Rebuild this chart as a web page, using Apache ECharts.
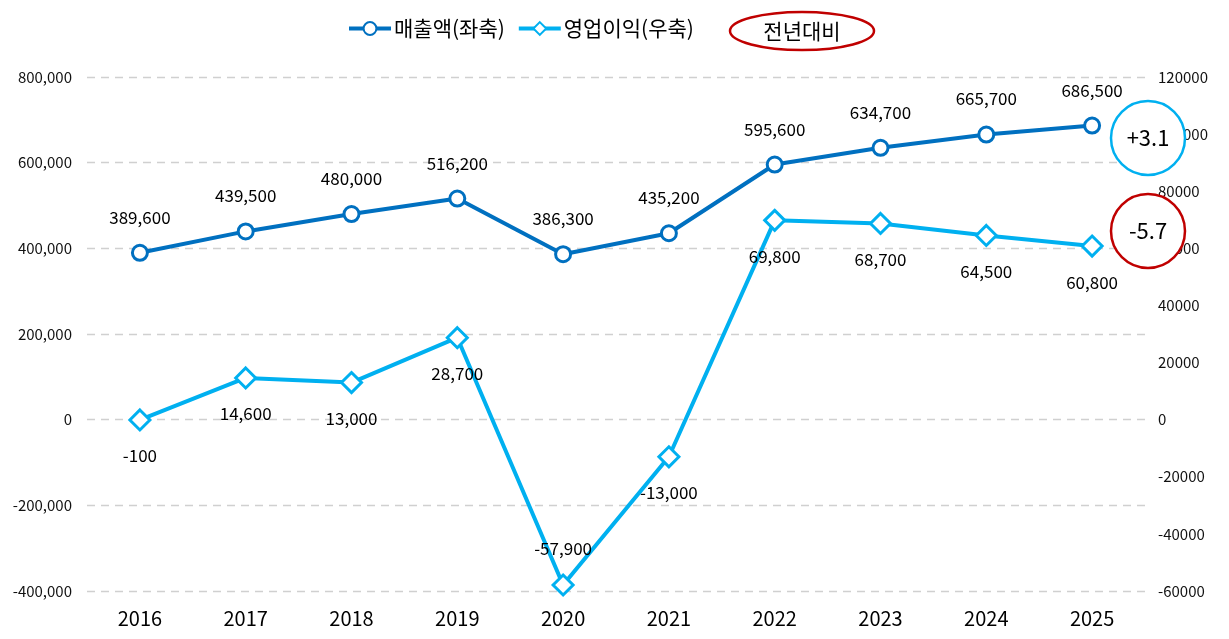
<!DOCTYPE html>
<html><head><meta charset="utf-8">
<script src="https://cdn.jsdelivr.net/npm/echarts@6/dist/echarts.min.js"></script>
<style>html,body{margin:0;padding:0;background:#fff}#c{width:1229px;height:639px}</style>
</head><body><div id="c"></div>
<script>
const years = ['2016','2017','2018','2019','2020','2021','2022','2023','2024','2025'];
const revenue = [389600,439500,480000,516200,386300,435200,595600,634700,665700,686500];
const opProfit = [-100,14600,13000,28700,-57900,-13000,69800,68700,64500,60800];
const revName = '매출액(좌축)';
const opName = '영업이익(우축)';
const revYoY = '+3.1';
const opYoY = '-5.7';
const FONT = '"Noto Sans CJK KR", "Noto Sans", sans-serif';
const fmt = v => v.toLocaleString('en-US');

const chart = echarts.init(document.getElementById('c'));
chart.setOption({
  backgroundColor:'#fff',
  textStyle:{fontFamily:FONT},
  animation:false,
  grid:{left:87,right:84,top:77,bottom:48},
  legend:{
    top:13,left:342,itemWidth:42,itemHeight:16,itemGap:12,
    data:[revName,opName],
    lineStyle:{width:4},
    textStyle:{fontSize:21,color:'#000',fontFamily:FONT,padding:[0,0,0,-2]}
  },
  xAxis:{
    type:'category',data:years,boundaryGap:true,
    axisLine:{show:false},axisTick:{show:false},
    axisLabel:{fontSize:20,color:'#000',margin:17,fontFamily:FONT}
  },
  yAxis:[
    {type:'value',min:-400000,max:800000,interval:200000,
     axisLine:{show:false},axisTick:{show:false},
     axisLabel:{fontSize:15,color:'#111',margin:15,formatter:v=>fmt(v),fontFamily:FONT},
     splitLine:{lineStyle:{color:'#d0d0d0',type:[8,6],width:1.3}}},
    {type:'value',min:-60000,max:120000,interval:20000,
     axisLine:{show:false},axisTick:{show:false},
     axisLabel:{fontSize:15,color:'#111',margin:13,formatter:v=>String(v),fontFamily:FONT},
     splitLine:{show:false}}
  ],
  series:[
    {name:revName,type:'line',yAxisIndex:0,data:revenue,
     symbol:'circle',symbolSize:15,
     lineStyle:{color:'#0070C0',width:4},
     itemStyle:{color:'#fff',borderColor:'#0070C0',borderWidth:3},
     label:{show:true,position:'top',distance:18,fontSize:17,color:'#000',formatter:p=>fmt(p.value),fontFamily:FONT},
     z:3},
    {name:opName,type:'line',yAxisIndex:1,
     symbol:'diamond',symbolSize:20,
     lineStyle:{color:'#00B0F0',width:4},
     itemStyle:{color:'#fff',borderColor:'#00B0F0',borderWidth:3},
     label:{show:true,fontSize:17,color:'#000',fontFamily:FONT,
       formatter:p=>fmt(p.value),
       position:'bottom',distance:16},
     data:opProfit.map((v,i)=>({value:v,label:{position:(i===4)?'top':'bottom'}})),
     z:4}
  ],
  graphic:[
    {type:'ellipse',shape:{cx:802,cy:31,rx:72,ry:19},style:{fill:'none',stroke:'#C00000',lineWidth:2.5}},
    {type:'text',style:{x:802,y:31,text:'전년대비',align:'center',verticalAlign:'middle',fontSize:21,fill:'#000',fontFamily:FONT}},
    {type:'circle',shape:{cx:1148,cy:138,r:37},style:{fill:'#fff',stroke:'#00B0F0',lineWidth:2.5},z:10},
    {type:'text',style:{x:1148,y:138,text:revYoY,align:'center',verticalAlign:'middle',fontSize:22,fill:'#000',fontFamily:FONT},z:11},
    {type:'circle',shape:{cx:1148,cy:231,r:37},style:{fill:'#fff',stroke:'#C00000',lineWidth:2.5},z:10},
    {type:'text',style:{x:1148,y:231,text:opYoY,align:'center',verticalAlign:'middle',fontSize:22,fill:'#000',fontFamily:FONT},z:11}
  ]
});
</script></body></html>
